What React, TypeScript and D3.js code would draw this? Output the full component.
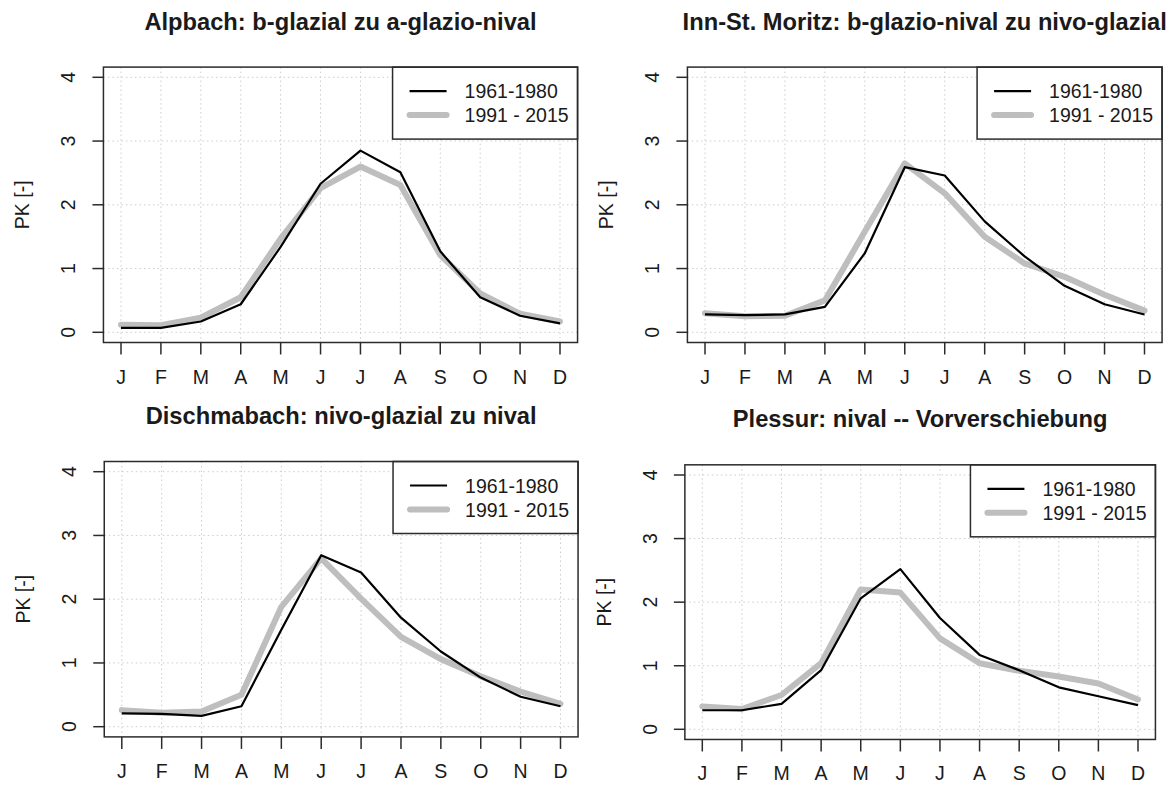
import React from 'react';
import * as d3 from 'd3';

// Monthly runoff coefficients (Pardé coefficient, PK) for two reference periods
const months = ['J', 'F', 'M', 'A', 'M', 'J', 'J', 'A', 'S', 'O', 'N', 'D'];
const yTicks = [0, 1, 2, 3, 4];
const periodLabels = ['1961-1980', '1991 - 2015'];
const yAxisLabel = 'PK [-]';

const alpbachEarly = [0.07, 0.07, 0.17, 0.44, 1.34, 2.33, 2.85, 2.51, 1.27, 0.55, 0.26, 0.14];
const alpbachLate = [0.12, 0.11, 0.23, 0.55, 1.47, 2.26, 2.6, 2.31, 1.21, 0.61, 0.29, 0.17];

const innEarly = [0.28, 0.27, 0.28, 0.4, 1.24, 2.59, 2.46, 1.74, 1.19, 0.73, 0.44, 0.28];
const innLate = [0.3, 0.25, 0.26, 0.5, 1.58, 2.65, 2.18, 1.5, 1.08, 0.87, 0.59, 0.34];

const dischmaEarly = [0.21, 0.2, 0.17, 0.32, 1.52, 2.69, 2.42, 1.71, 1.18, 0.77, 0.47, 0.32];
const dischmaLate = [0.26, 0.22, 0.24, 0.5, 1.88, 2.64, 2.01, 1.41, 1.06, 0.79, 0.55, 0.36];

const plessurEarly = [0.3, 0.3, 0.4, 0.93, 2.06, 2.52, 1.75, 1.17, 0.93, 0.66, 0.52, 0.38];
const plessurLate = [0.36, 0.32, 0.54, 1.04, 2.2, 2.15, 1.43, 1.04, 0.92, 0.83, 0.72, 0.47];

const panelTitles = [
  'Alpbach: b-glazial zu a-glazio-nival',
  'Inn-St. Moritz: b-glazio-nival zu nivo-glazial',
  'Dischmabach: nivo-glazial zu nival',
  'Plessur: nival -- Vorverschiebung',
];
const panelEarly = [alpbachEarly, innEarly, dischmaEarly, plessurEarly];
const panelLate = [alpbachLate, innLate, dischmaLate, plessurLate];

// Pixel placement of each panel: first/last month tick and y = 0 / y = 4
const panelFrames = [
  { xFirst: 121, xLast: 560, y0: 332.3, y4: 77.3 },
  { xFirst: 705, xLast: 1144.5, y0: 332.3, y4: 77.3 },
  { xFirst: 121.8, xLast: 560.5, y0: 726.7, y4: 471.7 },
  { xFirst: 702.3, xLast: 1138, y0: 729.3, y4: 475 },
];

const FONT = "'Liberation Sans', Arial, Helvetica, sans-serif";
const TEXT = '#1a1a1a';
const GREY = '#bebebe';
const BASE = 19.5;

function Panel({ idx }: { idx: number }) {
  const f = panelFrames[idx];
  const idxs = d3.range(months.length);
  const x = d3.scaleLinear().domain([0, months.length - 1]).range([f.xFirst, f.xLast]);
  const y = d3.scaleLinear().domain([0, 4]).range([f.y0, f.y4]);

  // R-style 4% padding around the data range
  const padX = 0.04 * (f.xLast - f.xFirst);
  const padY = 0.04 * (f.y0 - f.y4);
  const left = f.xFirst - padX;
  const right = f.xLast + padX;
  const top = f.y4 - padY;
  const bottom = f.y0 + padY;

  const line = d3
    .line<number>()
    .x((_, i) => x(i))
    .y((d) => y(d));

  const legW = 185;
  const legH = 72;
  const legX = right - legW;
  const legY = top;

  return (
    <g>
      <text
        x={(left + right) / 2}
        y={top - 37.5}
        textAnchor="middle"
        fontFamily={FONT}
        fontWeight="bold"
        fontSize={23.7}
        fill={TEXT}
      >
        {panelTitles[idx]}
      </text>

      {/* dotted grid */}
      {idxs.map((i) => (
        <line
          key={'gx' + i}
          x1={x(i)}
          x2={x(i)}
          y1={top}
          y2={bottom}
          stroke="#cccccc"
          strokeWidth={1}
          strokeDasharray="1.5 3"
        />
      ))}
      {yTicks.map((t) => (
        <line
          key={'gy' + t}
          x1={left}
          x2={right}
          y1={y(t)}
          y2={y(t)}
          stroke="#cccccc"
          strokeWidth={1}
          strokeDasharray="1.5 3"
        />
      ))}

      <path
        d={line(panelLate[idx]) || ''}
        fill="none"
        stroke={GREY}
        strokeWidth={6}
        strokeLinejoin="round"
        strokeLinecap="round"
      />
      <path
        d={line(panelEarly[idx]) || ''}
        fill="none"
        stroke="#000"
        strokeWidth={2.2}
        strokeLinejoin="round"
      />

      {/* legend */}
      <rect x={legX} y={legY} width={legW} height={legH} fill="#fff" stroke="#2b2b2b" strokeWidth={1.5} />
      <line x1={legX + 17} x2={legX + 54} y1={legY + 24} y2={legY + 24} stroke="#000" strokeWidth={2.2} />
      <line
        x1={legX + 17}
        x2={legX + 54}
        y1={legY + 48}
        y2={legY + 48}
        stroke={GREY}
        strokeWidth={6}
        strokeLinecap="round"
      />
      {periodLabels.map((lab, k) => (
        <text
          key={lab}
          x={legX + 72}
          y={legY + 24 + k * 24 + 7}
          fontFamily={FONT}
          fontSize={BASE}
          fill={TEXT}
        >
          {lab}
        </text>
      ))}

      {/* plot frame */}
      <rect x={left} y={top} width={right - left} height={bottom - top} fill="none" stroke="#2b2b2b" strokeWidth={1.5} />

      {/* x axis */}
      {idxs.map((i) => (
        <g key={'xt' + i}>
          <line x1={x(i)} x2={x(i)} y1={bottom} y2={bottom + 12} stroke="#2b2b2b" strokeWidth={1.5} />
          <text x={x(i)} y={bottom + 41} textAnchor="middle" fontFamily={FONT} fontSize={BASE} fill={TEXT}>
            {months[i]}
          </text>
        </g>
      ))}

      {/* y axis */}
      {yTicks.map((t) => (
        <g key={'yt' + t}>
          <line x1={left - 11} x2={left} y1={y(t)} y2={y(t)} stroke="#2b2b2b" strokeWidth={1.5} />
          <text
            transform={`translate(${left - 28},${y(t)}) rotate(-90)`}
            textAnchor="middle"
            fontFamily={FONT}
            fontSize={BASE}
            fill={TEXT}
          >
            {t}
          </text>
        </g>
      ))}
      <text
        transform={`translate(${left - 74},${(top + bottom) / 2}) rotate(-90)`}
        textAnchor="middle"
        fontFamily={FONT}
        fontSize={BASE}
        fill={TEXT}
      >
        {yAxisLabel}
      </text>
    </g>
  );
}

export default function App() {
  return (
    <svg
      width={1174}
      height={787}
      viewBox="0 0 1174 787"
      style={{ position: 'absolute', left: 0, top: 0, background: '#fff' }}
    >
      <rect width={1174} height={787} fill="#fff" />
      {panelFrames.map((_, i) => (
        <Panel key={i} idx={i} />
      ))}
    </svg>
  );
}
